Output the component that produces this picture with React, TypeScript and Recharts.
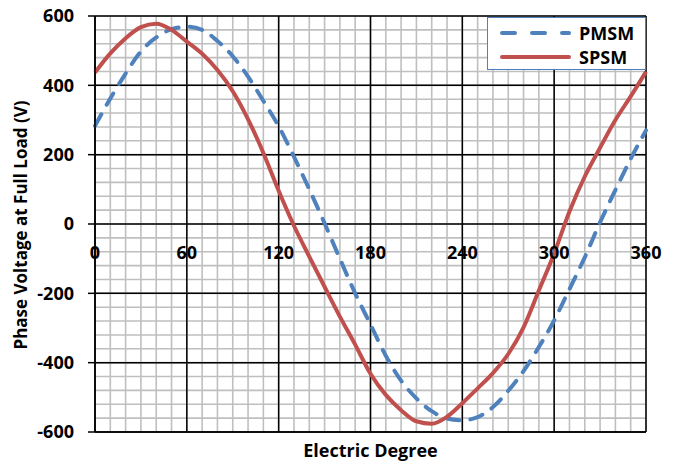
import { LineChart, Line, XAxis, YAxis, CartesianGrid, Legend } from "recharts";

const FONT = '"Open Sans", "DejaVu Sans", sans-serif';
const BLUE = "#4F81BD";
const RED = "#C0504D";

// electric degree, every 10 deg
const degrees = [
  0, 10, 20, 30, 40, 50, 60, 70, 80, 90, 100, 110, 120, 130, 140, 150, 160, 170, 180,
  190, 200, 210, 220, 230, 240, 250, 260, 270, 280, 290, 300, 310, 320, 330, 340, 350, 360,
];

// phase voltage at full load (V)
const pmsm = [
  283, 362, 434, 498, 538, 562, 569, 560, 528, 484, 425, 355, 282, 194, 100, 2, -100, -200, -290,
  -380, -452, -503, -540, -561, -566, -557, -528, -481, -424, -355, -278, -188, -96, 5, 98, 188, 270,
];
const spsm = [
  437, 492, 536, 568, 578, 560, 526, 491, 444, 383, 302, 205, 96, -5, -94, -181, -267, -348, -432,
  -493, -537, -569, -576, -556, -517, -474, -430, -375, -298, -192, -85, 36, 137, 220, 300, 368, 439,
];

const xMajorTicks = [0, 60, 120, 180, 240, 300, 360];
const xMinorTicks = [
  0, 10, 20, 30, 40, 50, 60, 70, 80, 90, 100, 110, 120, 130, 140, 150, 160, 170, 180,
  190, 200, 210, 220, 230, 240, 250, 260, 270, 280, 290, 300, 310, 320, 330, 340, 350, 360,
];
const yMajorTicks = [-600, -400, -200, 0, 200, 400, 600];
const yMinorTicks = [
  -600, -560, -520, -480, -440, -400, -360, -320, -280, -240, -200, -160, -120, -80, -40, 0,
  40, 80, 120, 160, 200, 240, 280, 320, 360, 400, 440, 480, 520, 560, 600,
];

const seriesNames = ["PMSM", "SPSM"];

const chartData = degrees.map((deg, i) => ({
  deg,
  PMSM: pmsm[i],
  SPSM: spsm[i],
}));

const labelStyle = {
  fontFamily: FONT,
  fontWeight: 700,
  fontSize: 18,
  fill: "#000",
};

// x tick labels sit just under the zero line, not at the bottom axis
function DegreeTick({ x, y, payload }: any) {
  return (
    <text
      x={x}
      y={y - 180}
      textAnchor="middle"
      dominantBaseline="central"
      style={labelStyle}
    >
      {payload.value}
    </text>
  );
}

function ChartLegend() {
  return (
    <div
      style={{
        boxSizing: "border-box",
        width: 159,
        height: 53,
        border: `1.5px solid ${BLUE}`,
        background: "#fff",
        padding: "3px 0 0 11px",
        fontFamily: FONT,
        fontWeight: 700,
        fontSize: 18,
        color: "#000",
        lineHeight: "24px",
      }}
    >
      {seriesNames.map((name, i) => (
        <div key={name} style={{ display: "flex", alignItems: "center", height: 24 }}>
          <svg width={76} height={10} style={{ marginRight: 4 }}>
            <line
              x1={3}
              y1={5}
              x2={70}
              y2={5}
              stroke={i === 0 ? BLUE : RED}
              strokeWidth={4}
              strokeLinecap="round"
              strokeDasharray={i === 0 ? "13 17" : undefined}
            />
          </svg>
          <span>{name}</span>
        </div>
      ))}
    </div>
  );
}

export default function App() {
  return (
    <div style={{ position: "absolute", left: 0, top: 0, background: "#fff" }}>
      <LineChart
        width={676}
        height={464}
        data={chartData}
        margin={{ top: 16, right: 30, left: 0, bottom: 0 }}
      >
        <CartesianGrid
          stroke="#BFBFBF"
          strokeWidth={1.6}
          verticalValues={xMinorTicks}
          horizontalValues={yMinorTicks}
        />
        <CartesianGrid stroke="#000" strokeWidth={1.5} />
        <XAxis
          dataKey="deg"
          type="number"
          domain={[0, 360]}
          ticks={xMajorTicks}
          tick={<DegreeTick />}
          tickLine={false}
          tickSize={0}
          tickMargin={0}
          axisLine={{ stroke: "#000", strokeWidth: 1.5 }}
          height={32}
          interval={0}
          label={{ value: "Electric Degree", position: "insideBottom", offset: 7, style: labelStyle }}
        />
        <YAxis
          type="number"
          domain={[-600, 600]}
          ticks={yMajorTicks}
          interval={0}
          width={95}
          tickSize={7}
          tickMargin={14}
          tickLine={{ stroke: "#000", strokeWidth: 1.5 }}
          axisLine={{ stroke: "#000", strokeWidth: 1.5 }}
          tick={labelStyle}
          label={{
            value: "Phase Voltage at Full Load (V)",
            angle: -90,
            position: "center",
            dx: -27,
            dy: 1,
            style: { ...labelStyle, fontSize: 17, textAnchor: "middle" },
          }}
        />
        <Legend
          layout="vertical"
          align="center"
          verticalAlign="middle"
          content={() => <ChartLegend />}
          wrapperStyle={{ left: 487, top: 17, width: 159, height: 53 }}
        />
        <Line
          type="monotone"
          dataKey="PMSM"
          stroke={BLUE}
          strokeWidth={4}
          strokeDasharray="13 11"
          strokeLinecap="round"
          dot={false}
          isAnimationActive={false}
        />
        <Line
          type="monotone"
          dataKey="SPSM"
          stroke={RED}
          strokeWidth={4}
          dot={false}
          isAnimationActive={false}
        />
      </LineChart>
    </div>
  );
}
